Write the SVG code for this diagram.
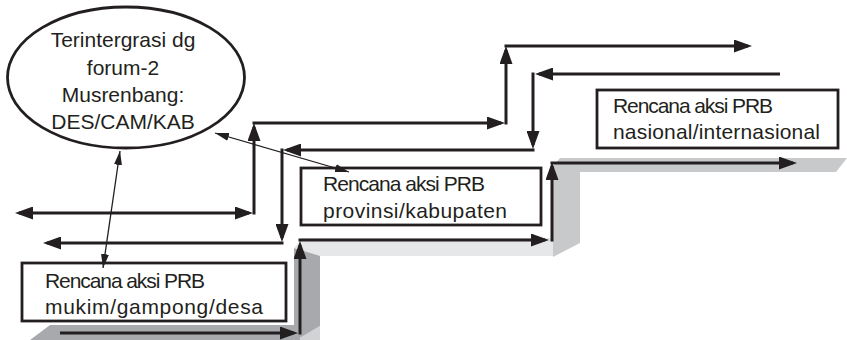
<svg xmlns="http://www.w3.org/2000/svg" width="847" height="340" viewBox="0 0 847 340">
  <style>
    .node-shape { fill: #ffffff; stroke: #231f20; stroke-width: 2.8; }
    .label { font-family: "Liberation Sans", Arial, sans-serif; font-size: 21px; fill: #231f20; }
    .flow { fill: none; stroke: #231f20; stroke-width: 3; stroke-linecap: butt; }
    .link { fill: none; stroke: #231f20; stroke-width: 1.3; }
    .end { marker-end: url(#head); }
    .both { marker-start: url(#head); marker-end: url(#head); }
    .thin-both { marker-start: url(#thin); marker-end: url(#thin); }
  </style>
  <defs>
    <marker id="head" markerUnits="userSpaceOnUse" markerWidth="18" markerHeight="13" refX="14" refY="6.5" orient="auto-start-reverse">
      <path d="M0,0 L18,6.5 L0,13 Z" fill="#231f20"/>
    </marker>
    <marker id="thin" markerUnits="userSpaceOnUse" markerWidth="14" markerHeight="8" refX="14" refY="4" orient="auto-start-reverse">
      <path d="M0,0 L14,4 L0,8 Z" fill="#231f20"/>
    </marker>
  </defs>

  <!-- staircase shading -->
  <g id="stairs">
    <polygon points="30,340 50,325 300,325 300,340" fill="#a7a9ac"/>
    <polygon points="300,340 300,337 320,326 320,340" fill="#d1d3d4"/>
    <polygon points="294,248 320,255 320,326 301,337 294,337" fill="#a7a9ac"/>
    <polygon points="302,238 553,238 553,256 320,256 294,248" fill="#e6e7e8"/>
    <polygon points="553,166 560,158 847,158 836,172 580,172 580,243 553,257" fill="#c8c9cb"/>
  </g>

  <!-- forum node -->
  <g id="forum">
    <ellipse class="node-shape" cx="126" cy="77.5" rx="118.5" ry="70.5" stroke-width="2.5"/>
    <text class="label" x="123" y="47" text-anchor="middle">Terintergrasi dg</text>
    <text class="label" x="123" y="74.5" text-anchor="middle">forum-2</text>
    <text class="label" x="123" y="102" text-anchor="middle">Musrenbang:</text>
    <text class="label" x="123" y="129" text-anchor="middle">DES/CAM/KAB</text>
  </g>

  <!-- village level -->
  <g id="desa">
    <rect class="node-shape" x="22" y="263" width="264" height="58"/>
    <text class="label" x="45" y="287.5" textLength="160">Rencana aksi PRB</text>
    <text class="label" x="45" y="313.5" textLength="218">mukim/gampong/desa</text>
  </g>

  <!-- province level -->
  <g id="provinsi">
    <rect class="node-shape" x="301" y="168" width="240" height="57"/>
    <text class="label" x="323" y="191" textLength="162">Rencana aksi PRB</text>
    <text class="label" x="323" y="218" textLength="184">provinsi/kabupaten</text>
  </g>

  <!-- national level -->
  <g id="nasional">
    <rect class="node-shape" x="597" y="90" width="241" height="58"/>
    <text class="label" x="613" y="112.5" textLength="160">Rencana aksi PRB</text>
    <text class="label" x="613" y="139" textLength="207">nasional/internasional</text>
  </g>

  <!-- connectors -->
  <g id="connectors">
    <!-- upward chain -->
    <line class="flow both" x1="19" y1="213" x2="249" y2="213"/>
    <line class="flow end" x1="254" y1="214.5" x2="254" y2="127"/>
    <line class="flow end" x1="252.5" y1="123" x2="501" y2="123"/>
    <line class="flow end" x1="506" y1="124.5" x2="506" y2="50"/>
    <line class="flow end" x1="504.5" y1="46" x2="748" y2="46"/>

    <!-- downward chain -->
    <line class="flow end" x1="780" y1="74" x2="539" y2="74"/>
    <line class="flow end" x1="533" y1="72.5" x2="533" y2="145"/>
    <line class="flow end" x1="534.5" y1="150" x2="287" y2="150"/>
    <line class="flow end" x1="282" y1="148.5" x2="282" y2="238"/>
    <line class="flow end" x1="283.5" y1="243" x2="47" y2="243"/>

    <!-- staircase chain -->
    <line class="flow end" x1="60" y1="333" x2="294" y2="333"/>
    <line class="flow end" x1="300" y1="334.5" x2="300" y2="245"/>
    <line class="flow end" x1="298.5" y1="240" x2="545" y2="240"/>
    <line class="flow end" x1="552" y1="241.5" x2="552" y2="166"/>
    <line class="flow end" x1="550.5" y1="163" x2="793" y2="163"/>

    <!-- links to the forum -->
    <line class="link thin-both" x1="120" y1="151" x2="103" y2="268"/>
    <line class="link thin-both" x1="215" y1="133" x2="349" y2="172"/>
  </g>
</svg>
